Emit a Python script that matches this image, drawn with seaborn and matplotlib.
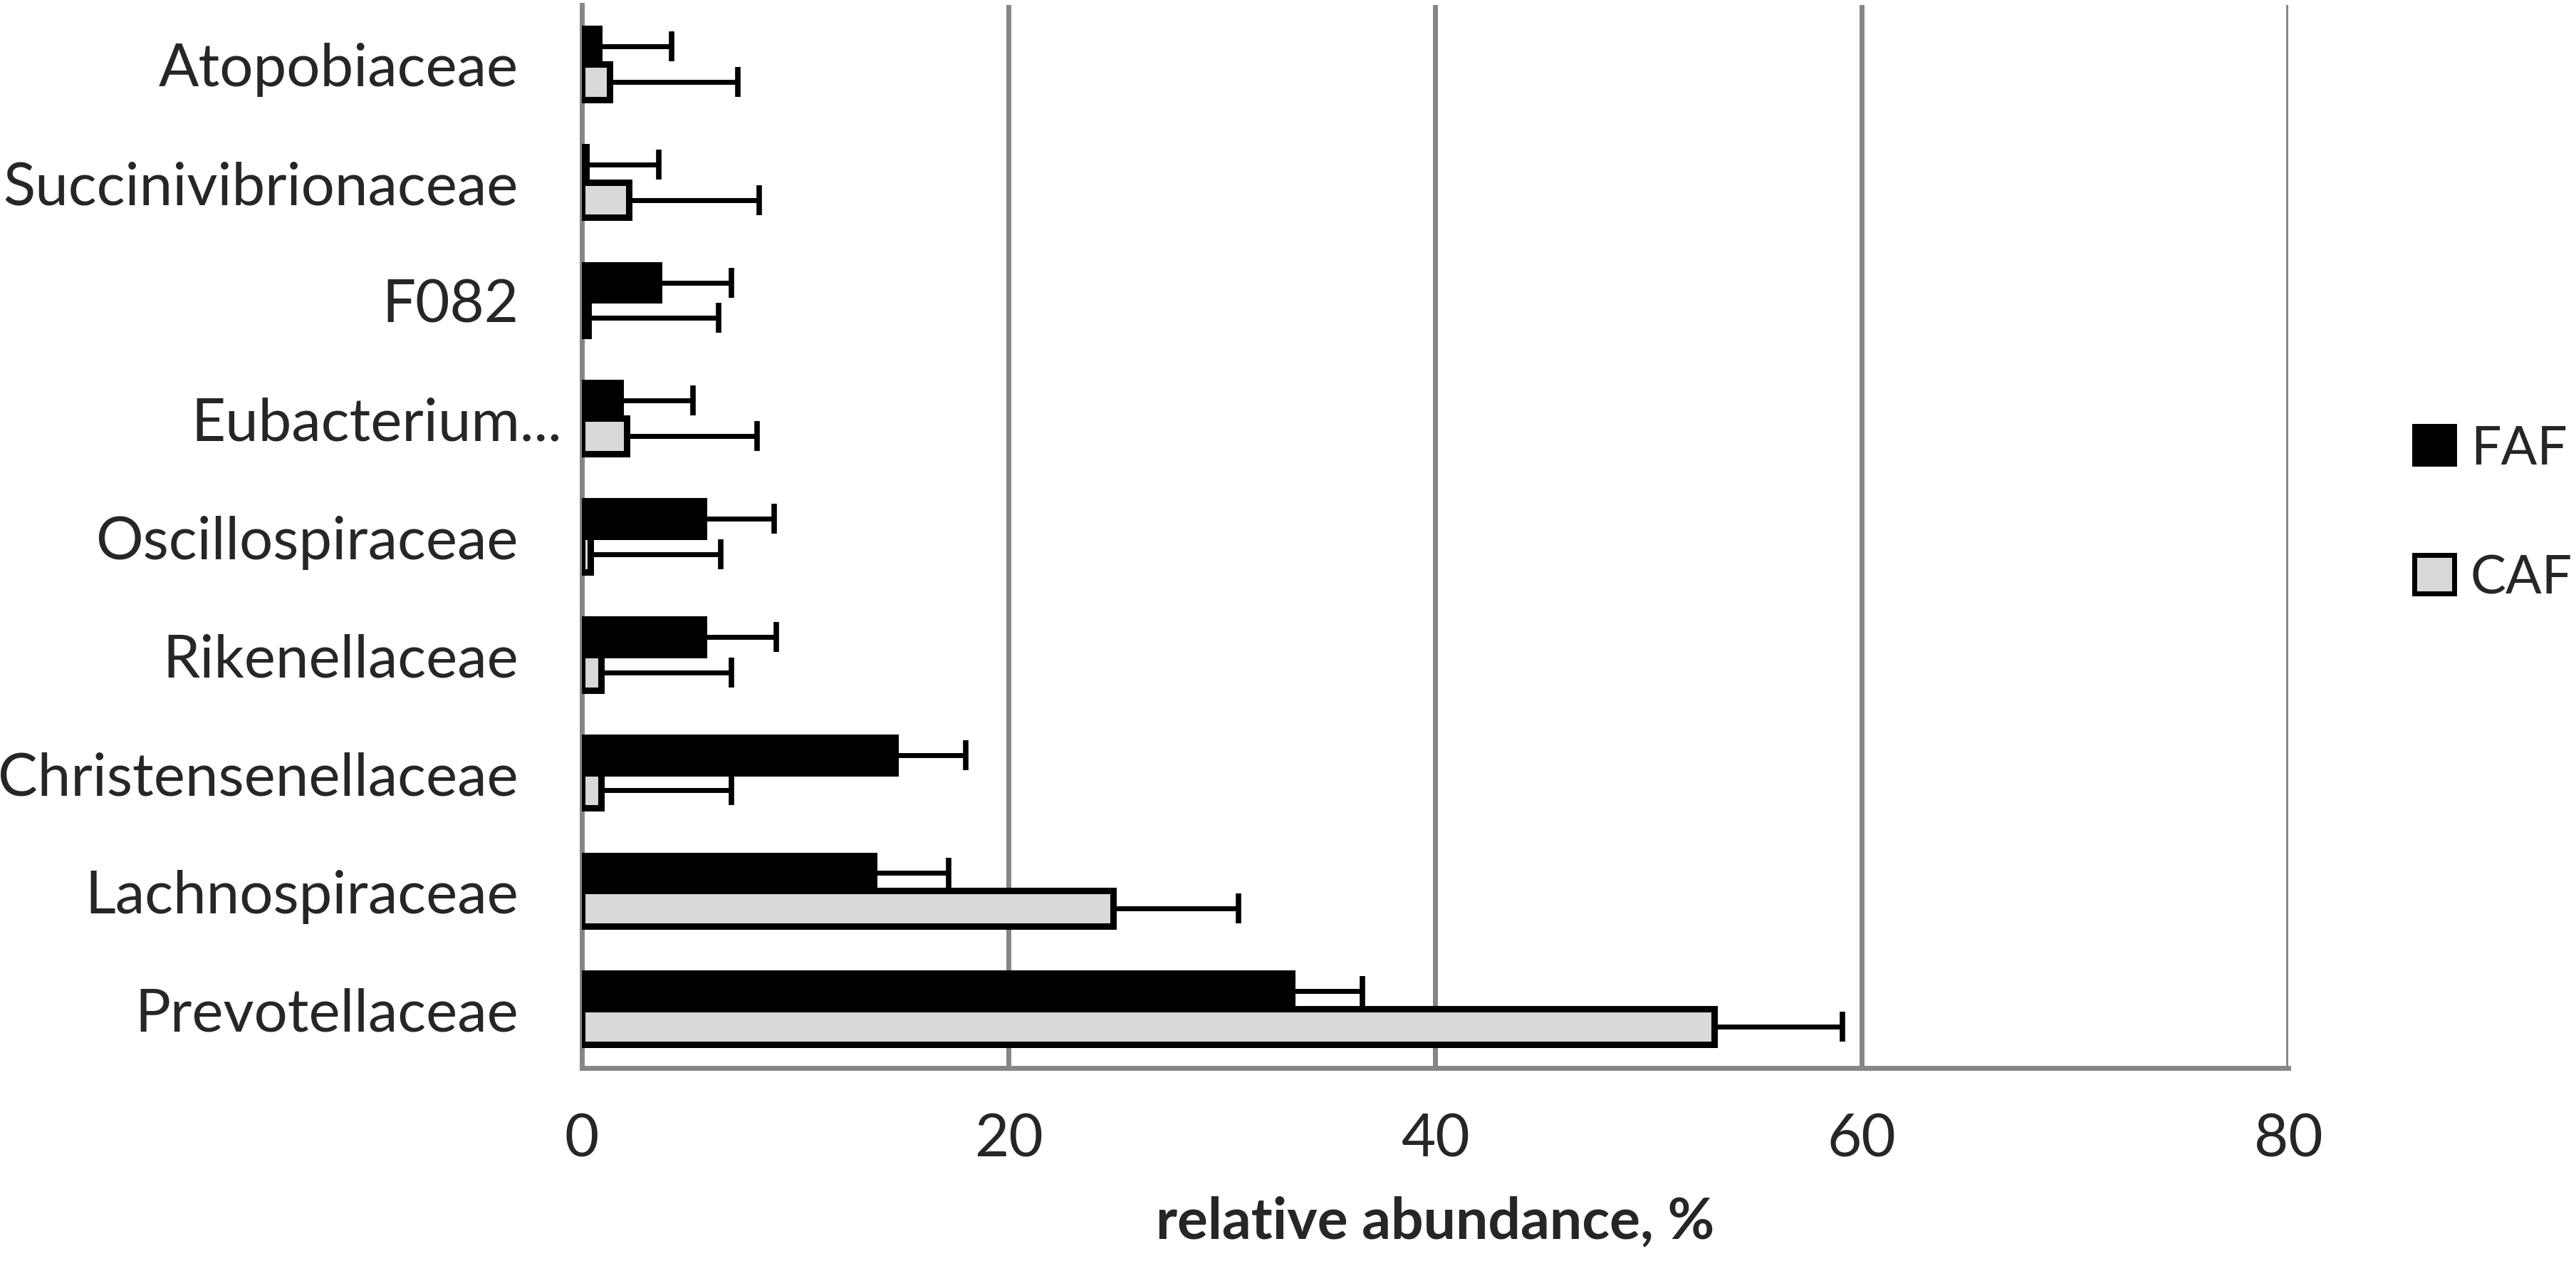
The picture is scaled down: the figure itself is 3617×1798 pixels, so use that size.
import numpy as np
import pandas as pd
import seaborn as sns
import matplotlib.pyplot as plt
from matplotlib.patches import Patch

families = ["Atopobiaceae", "Succinivibrionaceae", "F082", "Eubacterium...",
            "Oscillospiraceae", "Rikenellaceae", "Christensenellaceae",
            "Lachnospiraceae", "Prevotellaceae"]
faf = [0.8, 0.2, 3.6, 1.8, 5.7, 5.7, 14.7, 13.7, 33.3]
faf_err = [3.4, 3.4, 3.4, 3.4, 3.3, 3.4, 3.3, 3.5, 3.3]
caf = [1.3, 2.2, 0.3, 2.1, 0.4, 0.9, 0.9, 24.9, 53.1]
caf_err = [6.0, 6.1, 6.1, 6.1, 6.1, 6.1, 6.1, 5.9, 6.0]
groups = ["FAF", "CAF"]
xticks = [0, 20, 40, 60, 80]

sns.set_style("white")
plt.rcParams["font.family"] = ["Lato", "DejaVu Sans"]

df = pd.DataFrame({
    "family": families * 2,
    "value": faf + caf,
    "group": ["FAF"] * len(families) + ["CAF"] * len(families),
})
errs = {"FAF": faf_err, "CAF": caf_err}
colors = {"FAF": "black", "CAF": "#d9d9d9"}
grid_c = "#868686"

fig = plt.figure(figsize=(36.17, 17.99), dpi=100)
ax = fig.add_axes([817 / 3617, 1 - 1500 / 1799, (3213 - 817) / 3617, (1500 - 8) / 1799])

sns.barplot(data=df, x="value", y="family", hue="group", hue_order=groups,
            order=families, palette=colors, orient="h", width=0.6,
            edgecolor="black", linewidth=6.5, errorbar=None, legend=False,
            ax=ax, zorder=3)

# error bars (positive side only) on top of each bar
for g, cont in zip(groups, ax.containers):
    ys = [b.get_y() + b.get_height() / 2 for b in cont]
    xs = [b.get_width() for b in cont]
    ax.errorbar(xs, ys, xerr=[np.zeros(len(xs)), errs[g]], fmt="none",
                ecolor="black", elinewidth=5, capsize=15, capthick=5.5, zorder=4)

ax.set_xlim(0, 80)
ax.set_xticks(xticks)
ax.set_xticklabels([str(t) for t in xticks])
ax.set_ylim(len(families) - 0.5, -0.5)

# y ticks at category boundaries, labels at centers
# (the truncated "Eubacterium..." label reaches closer to the axis, so it is placed apart)
ax.set_yticks(np.arange(len(families) + 1) - 0.5)
ax.set_yticklabels([])
ax.set_yticks(np.arange(len(families)), minor=True)
ax.set_yticklabels(["" if f.endswith("...") else f for f in families], minor=True)
ax.tick_params(axis="y", which="major", length=23, width=5, color=grid_c, direction="out")
ax.tick_params(axis="y", which="minor", length=0, pad=64, labelsize=60)
ax.tick_params(axis="x", length=19, width=4, color=grid_c, pad=26, labelsize=60)
for i, f in enumerate(families):
    if f.endswith("..."):
        ax.annotate(f, xy=(0, i), xycoords=ax.get_yaxis_transform(),
                    xytext=(-20, 0), textcoords="offset points",
                    ha="right", va="center_baseline", fontsize=60)

ax.grid(axis="x", color=grid_c, linewidth=5, zorder=0)
ax.set_axisbelow(True)
for s in ["top", "right"]:
    ax.spines[s].set_visible(False)
for s in ["left", "bottom"]:
    ax.spines[s].set_color(grid_c)
    ax.spines[s].set_linewidth(5)

ax.set_ylabel("")
ax.set_xlabel("relative abundance, %", fontsize=58, fontweight="bold", labelpad=29)

handles = [Patch(facecolor=colors[g], edgecolor="black", linewidth=5) for g in groups]
fig.legend(handles, groups, loc="center left", bbox_to_anchor=(3390 / 3617, 1 - 721 / 1799),
           frameon=False, fontsize=54, handlelength=0.75, handleheight=0.72,
           handletextpad=0.3, labelspacing=1.5, borderaxespad=0, borderpad=0)

fig.savefig("out.png", dpi=100)
